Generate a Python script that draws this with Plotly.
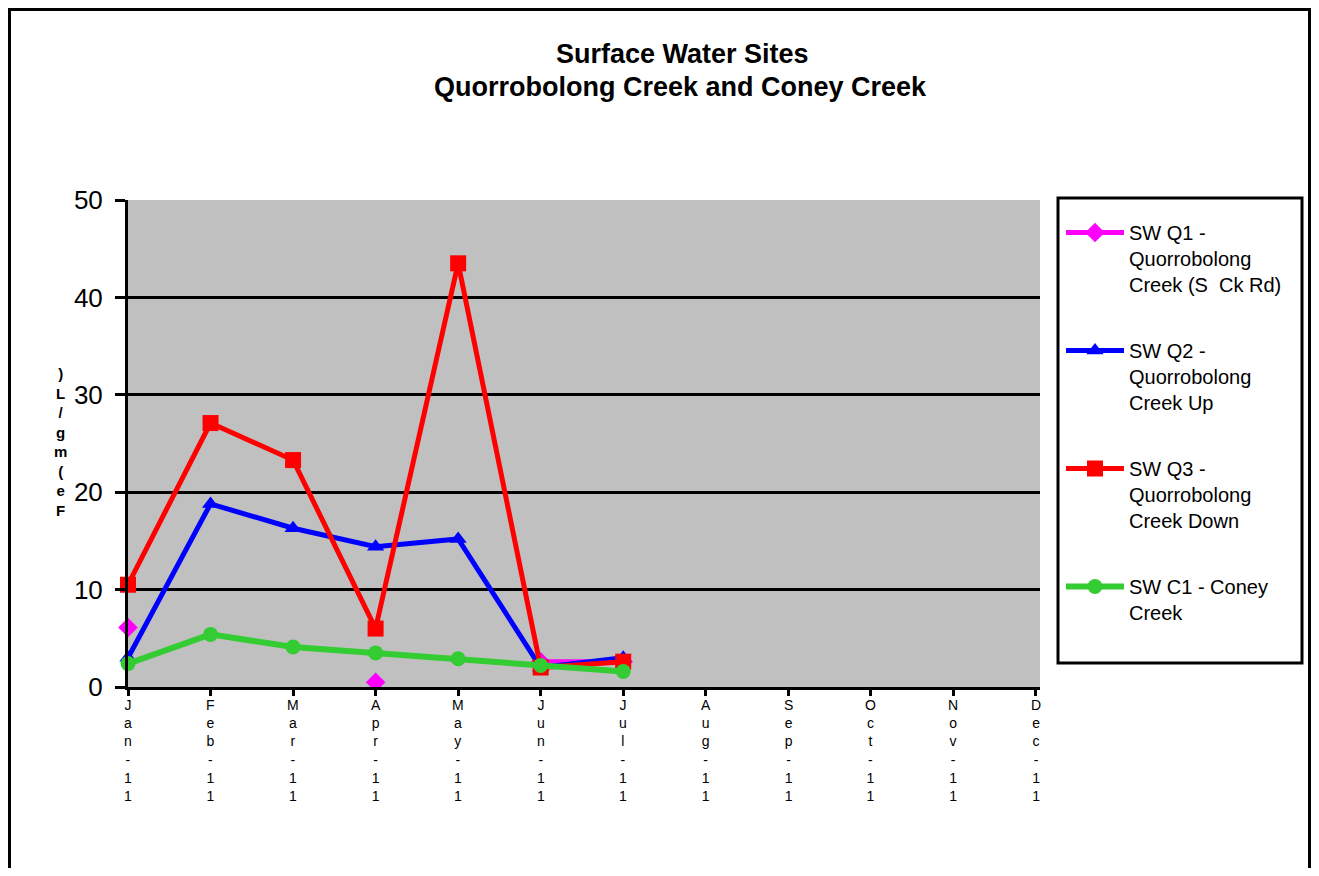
import plotly.graph_objects as go

FONT = "Arial, Liberation Sans, sans-serif"

months = ["Jan-11", "Feb-11", "Mar-11", "Apr-11", "May-11", "Jun-11",
          "Jul-11", "Aug-11", "Sep-11", "Oct-11", "Nov-11", "Dec-11"]

sw_q1 = [6.1, None, None, 0.5, None, 2.6, 2.6, None, None, None, None, None]
sw_q2 = [3.0, 18.8, 16.3, 14.4, 15.2, 2.0, 3.0, None, None, None, None, None]
sw_q3 = [10.5, 27.1, 23.3, 6.0, 43.5, 2.0, 2.6, None, None, None, None, None]
sw_c1 = [2.4, 5.4, 4.1, 3.5, 2.9, 2.2, 1.6, None, None, None, None, None]

series = [
    ("SW Q1 -<br>Quorrobolong<br>Creek (S  Ck Rd)", sw_q1, "#ff00ff", "diamond", 15, 5),
    ("SW Q2 -<br>Quorrobolong<br>Creek Up", sw_q2, "#0000ff", "triangle-up", 15, 5),
    ("SW Q3 -<br>Quorrobolong<br>Creek Down", sw_q3, "#ff0000", "square", 16, 5),
    ("SW C1 - Coney<br>Creek", sw_c1, "#33cc33", "circle", 15, 6),
]

y_title = "Fe(mg/L)"

fig = go.Figure()
idx = list(range(len(months)))
for i, (name, vals, color, sym, size, lw) in enumerate(series):
    fig.add_trace(go.Scatter(
        x=idx, y=vals, name=name, mode="lines+markers",
        line=dict(color=color, width=lw),
        marker=dict(color=color, symbol=sym, size=size),
        legendgroup=str(i), connectgaps=False, cliponaxis=False,
    ))

# page offset (body margin) and plot area in screen pixels
OFF = 8
W, H = 1319 - 2 * OFF, 876 - 2 * OFF
L, R, T, B = 128 - OFF, 1040 - OFF, 200 - OFF, 687 - OFF
pw, ph = R - L, B - T

def px_x(p):
    return (p - OFF - L) / pw

def px_y(p):
    return (B - (p - OFF)) / ph

title_font = dict(family=FONT, size=27, color="black")
ann = [
    dict(text="<b>Surface Water Sites</b>", x=px_x(682), y=px_y(54), xref="paper", yref="paper",
         xanchor="center", yanchor="middle", showarrow=False, font=title_font),
    dict(text="<b>Quorrobolong Creek and Coney Creek</b>", x=px_x(680), y=px_y(87), xref="paper",
         yref="paper", xanchor="center", yanchor="middle", showarrow=False, font=title_font),
    # stacked y-axis title, read bottom to top
    dict(text="<b>" + "<br>".join(reversed(y_title)) + "</b>", x=px_x(60), y=px_y(442),
         xref="paper", yref="paper", xanchor="center", yanchor="middle", showarrow=False,
         font=dict(family=FONT, size=15, color="black")),
]

# stacked month labels
for i, m in enumerate(months):
    ann.append(dict(text="<br>".join(m), x=i, y=0, xref="x", yref="y", xanchor="center",
                    yanchor="top", yshift=-8, showarrow=False,
                    font=dict(family=FONT, size=14, color="black")))

fig.update_layout(
    width=W, height=H,
    margin=dict(l=L, r=W - R, t=T, b=H - B),
    paper_bgcolor="white", plot_bgcolor="#c0c0c0",
    font=dict(family=FONT, size=20, color="black"),
    showlegend=True,
    legend=dict(x=px_x(1061), y=px_y(213), xanchor="left", yanchor="top",
                borderwidth=0, bgcolor="rgba(0,0,0,0)", valign="top",
                font=dict(family=FONT, size=20, color="black"),
                tracegroupgap=37, itemwidth=58),
    annotations=ann,
    shapes=[
        dict(type="rect", xref="paper", yref="paper", x0=px_x(OFF + 1.5), x1=px_x(OFF + W - 1.5),
             y0=px_y(OFF + H + 5), y1=px_y(OFF + 1.5), line=dict(color="black", width=3),
             layer="below"),
        dict(type="rect", xref="paper", yref="paper", x0=px_x(1058), x1=px_x(1302),
             y0=px_y(663), y1=px_y(198), line=dict(color="black", width=3),
             fillcolor="white", layer="below"),
    ],
)
fig.update_xaxes(range=[0, 11.05], showgrid=False, zeroline=False, showticklabels=False,
                 tickvals=idx, ticks="outside", ticklen=6, tickwidth=3, tickcolor="black",
                 showline=True, linecolor="black", linewidth=3)
fig.update_yaxes(range=[0, 50], dtick=10, showgrid=True, gridcolor="black", gridwidth=3,
                 zeroline=False, ticks="outside", ticklen=10, tickwidth=3, tickcolor="black",
                 showline=True, linecolor="black", linewidth=3, ticklabelstandoff=7,
                 tickfont=dict(family=FONT, size=26, color="black"))

fig.write_html("out.html")
